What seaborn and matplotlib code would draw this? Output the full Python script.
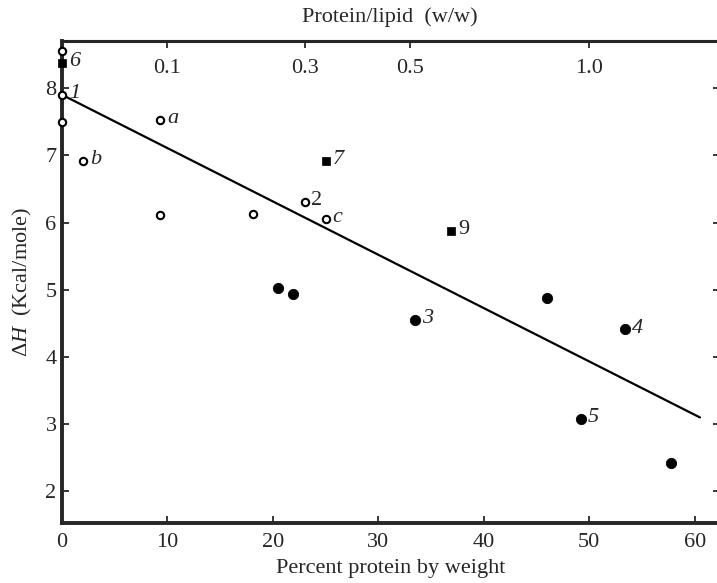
import matplotlib
matplotlib.use("Agg")
import matplotlib.pyplot as plt
import seaborn as sns
import pandas as pd

# open circles
open_x = [0, 0, 0, 9.3, 2.0, 9.3, 18.1, 23.0, 25.0]
open_y = [8.55, 7.9, 7.5, 7.52, 6.91, 6.11, 6.12, 6.30, 6.05]
open_lab = ["", "1", "", "a", "b", "", "", "2", "c"]

# filled squares
sq_x = [0, 25.0, 36.9]
sq_y = [8.38, 6.91, 5.88]
sq_lab = ["6", "7", "9"]

# filled circles
dot_x = [20.5, 21.9, 33.5, 46.0, 53.4, 49.2, 57.8]
dot_y = [5.03, 4.93, 4.55, 4.88, 4.41, 3.08, 2.42]
dot_lab = ["", "", "3", "", "4", "5", ""]

# regression line
fit_x = [0, 60.5]
fit_y = [7.9, 3.1]

# top axis: protein/lipid ratio
top_pos = [10, 23, 33, 50]
top_lab = ["0.1", "0.3", "0.5", "1.0"]

sns.set_style("ticks")
plt.rcParams["font.family"] = ["Liberation Serif", "DejaVu Serif"]
plt.rcParams["mathtext.fontset"] = "custom"
plt.rcParams["mathtext.it"] = "Liberation Serif:italic"
plt.rcParams["mathtext.rm"] = "Liberation Serif"

FS = 16

fig = plt.figure(figsize=(7.17, 5.83), dpi=100)
ax = fig.add_axes([62 / 717, 60 / 583, 658 / 717, 482 / 583])

df_open = pd.DataFrame({"x": open_x, "y": open_y})
df_sq = pd.DataFrame({"x": sq_x, "y": sq_y})
df_dot = pd.DataFrame({"x": dot_x, "y": dot_y})

sns.lineplot(x=fit_x, y=fit_y, ax=ax, color="black", linewidth=1.6)
sns.scatterplot(data=df_open, x="x", y="y", ax=ax, marker="o", s=28,
                facecolor="white", edgecolor="black", linewidth=1.5, zorder=3, clip_on=False)
sns.scatterplot(data=df_sq, x="x", y="y", ax=ax, marker="s", s=40,
                color="black", edgecolor="black", zorder=3, clip_on=False)
sns.scatterplot(data=df_dot, x="x", y="y", ax=ax, marker="o", s=55,
                color="black", edgecolor="black", zorder=3, clip_on=False)

upright = {"2", "9"}
for xs, ys, labs in [(open_x, open_y, open_lab), (sq_x, sq_y, sq_lab), (dot_x, dot_y, dot_lab)]:
    for x, y, t in zip(xs, ys, labs):
        if t:
            ax.annotate(t, (x, y), xytext=(5, 1), textcoords="offset points",
                        ha="left", va="center", fontsize=FS,
                        style="normal" if t in upright else "italic")

ax.set_xlim(0, 62.4)
ax.set_ylim(1.53, 8.7)
ax.set_xticks([0, 10, 20, 30, 40, 50, 60])
ax.set_yticks([2, 3, 4, 5, 6, 7, 8])
ax.tick_params(direction="in", length=5, width=1.3, labelsize=FS, right=True)
ax.tick_params(axis="x", pad=7)
ax.tick_params(axis="y", pad=4)
ax.set_xlabel("Percent protein by weight", fontsize=FS, labelpad=5)
ax.set_ylabel("$\\mathit{ΔH}$  (Kcal/mole)", fontsize=FS, labelpad=8)

for side in ["left", "bottom", "top"]:
    ax.spines[side].set_visible(True)
    ax.spines[side].set_linewidth(2.8)
ax.spines["top"].set_linewidth(2.2)
ax.spines["right"].set_visible(False)

ax2 = ax.secondary_xaxis("top")
ax2.set_xticks(top_pos)
ax2.set_xticklabels(top_lab)
ax2.tick_params(direction="in", length=5, width=1.3, labelsize=FS, pad=-27)
ax2.spines["top"].set_linewidth(2.2)

fig.text(390 / 717, 1 - 17 / 583, "Protein/lipid  (w/w)", fontsize=FS,
         ha="center", va="center")

fig.savefig("out.png", dpi=100)
